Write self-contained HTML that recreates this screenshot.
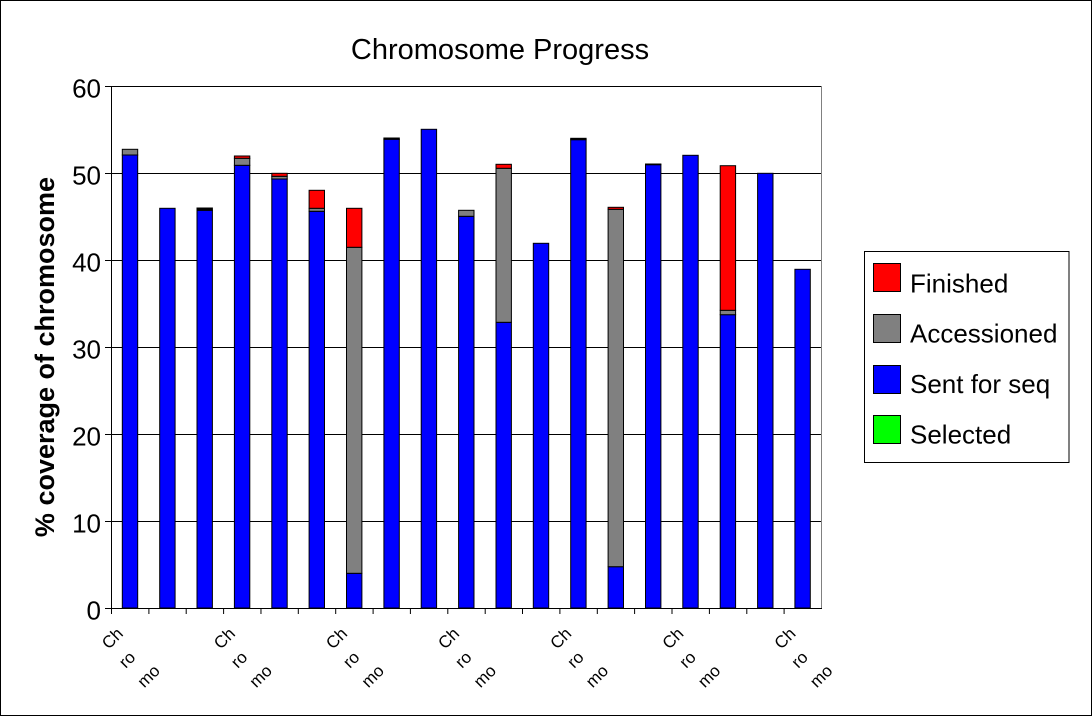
<!DOCTYPE html>
<html>
<head>
<meta charset="utf-8">
<style>
html,body{margin:0;padding:0;background:#fff;}
svg{display:block;}
text{font-family:"Liberation Sans",Arial,sans-serif;fill:#000;}
</style>
</head>
<body>
<svg width="1092" height="716" viewBox="0 0 1092 716" xmlns="http://www.w3.org/2000/svg">
<rect x="0.5" y="0.5" width="1091" height="715" fill="#fff" stroke="#000" stroke-width="1"/>

<!-- Title -->
<text x="500" y="59" font-size="29" text-anchor="middle">Chromosome Progress</text>

<!-- Y axis label -->
<text transform="translate(54,357) rotate(-90)" font-size="27" font-weight="bold" text-anchor="middle">% coverage of chromosome</text>

<!-- gridlines -->
<g stroke="#000" stroke-width="1">
<line x1="111" y1="86.5" x2="821" y2="86.5"/>
<line x1="111" y1="173.5" x2="821" y2="173.5"/>
<line x1="111" y1="260.5" x2="821" y2="260.5"/>
<line x1="111" y1="347.5" x2="821" y2="347.5"/>
<line x1="111" y1="434.5" x2="821" y2="434.5"/>
<line x1="111" y1="521.5" x2="821" y2="521.5"/>
</g>
<line x1="821.5" y1="86" x2="821.5" y2="608" stroke="#808080" stroke-width="1"/>

<!-- Y ticks & labels -->
<g stroke="#000" stroke-width="1">
<line x1="105" y1="86.5" x2="111" y2="86.5"/>
<line x1="105" y1="173.5" x2="111" y2="173.5"/>
<line x1="105" y1="260.5" x2="111" y2="260.5"/>
<line x1="105" y1="347.5" x2="111" y2="347.5"/>
<line x1="105" y1="434.5" x2="111" y2="434.5"/>
<line x1="105" y1="521.5" x2="111" y2="521.5"/>
<line x1="105" y1="608.5" x2="111" y2="608.5"/>
</g>
<g font-size="26" text-anchor="end">
<text x="101" y="97.5">60</text>
<text x="101" y="184.5">50</text>
<text x="101" y="271.5">40</text>
<text x="101" y="358.5">30</text>
<text x="101" y="445.5">20</text>
<text x="101" y="532.5">10</text>
<text x="101" y="619.5">0</text>
</g>

<!-- Bars -->
<g stroke="#000" stroke-width="1">
<!-- 0 -->
<rect x="122.3" y="155" width="15.4" height="453" fill="#0000ff"/>
<rect x="122.3" y="149.3" width="15.4" height="5.7" fill="#808080"/>
<!-- 1 -->
<rect x="159.7" y="208.3" width="15.4" height="399.7" fill="#0000ff"/>
<!-- 2 -->
<rect x="197.0" y="210.3" width="15.4" height="397.7" fill="#0000ff"/>
<rect x="197.0" y="208" width="15.4" height="2.3" fill="#000"/>
<!-- 3 -->
<rect x="234.4" y="165.3" width="15.4" height="442.7" fill="#0000ff"/>
<rect x="234.4" y="158.3" width="15.4" height="7" fill="#808080"/>
<rect x="234.4" y="156" width="15.4" height="2.3" fill="#ff0000"/>
<!-- 4 -->
<rect x="271.8" y="179" width="15.4" height="429" fill="#0000ff"/>
<rect x="271.8" y="176.3" width="15.4" height="2.7" fill="#808080"/>
<rect x="271.8" y="173.3" width="15.4" height="3" fill="#ff0000"/>
<!-- 5 -->
<rect x="309.1" y="211.3" width="15.4" height="396.7" fill="#0000ff"/>
<rect x="309.1" y="208.3" width="15.4" height="3" fill="#808080"/>
<rect x="309.1" y="190.3" width="15.4" height="18" fill="#ff0000"/>
<!-- 6 -->
<rect x="346.5" y="573.3" width="15.4" height="34.7" fill="#0000ff"/>
<rect x="346.5" y="247.3" width="15.4" height="326" fill="#808080"/>
<rect x="346.5" y="208.3" width="15.4" height="39" fill="#ff0000"/>
<!-- 7 -->
<rect x="383.9" y="139.3" width="15.4" height="468.7" fill="#0000ff"/>
<rect x="383.9" y="138" width="15.4" height="1.3" fill="#000"/>
<!-- 8 -->
<rect x="421.2" y="129.3" width="15.4" height="478.7" fill="#0000ff"/>
<!-- 9 -->
<rect x="458.6" y="216.3" width="15.4" height="391.7" fill="#0000ff"/>
<rect x="458.6" y="210.3" width="15.4" height="6" fill="#808080"/>
<!-- 10 -->
<rect x="496.0" y="322.3" width="15.4" height="285.7" fill="#0000ff"/>
<rect x="496.0" y="168.3" width="15.4" height="154" fill="#808080"/>
<rect x="496.0" y="164.3" width="15.4" height="4" fill="#ff0000"/>
<!-- 11 -->
<rect x="533.3" y="243.3" width="15.4" height="364.7" fill="#0000ff"/>
<!-- 12 -->
<rect x="570.7" y="139.7" width="15.4" height="468.3" fill="#0000ff"/>
<rect x="570.7" y="138.3" width="15.4" height="1.4" fill="#000"/>
<!-- 13 -->
<rect x="608.1" y="566.7" width="15.4" height="41.3" fill="#0000ff"/>
<rect x="608.1" y="209.3" width="15.4" height="357.4" fill="#808080"/>
<rect x="608.1" y="207.3" width="15.4" height="2" fill="#ff0000"/>
<!-- 14 -->
<rect x="645.5" y="164.7" width="15.4" height="443.3" fill="#0000ff"/>
<rect x="645.5" y="164" width="15.4" height="0.7" fill="#000"/>
<!-- 15 -->
<rect x="682.8" y="155.3" width="15.4" height="452.7" fill="#0000ff"/>
<!-- 16 -->
<rect x="720.2" y="314.7" width="15.4" height="293.3" fill="#0000ff"/>
<rect x="720.2" y="310.3" width="15.4" height="4.4" fill="#808080"/>
<rect x="720.2" y="165.7" width="15.4" height="144.6" fill="#ff0000"/>
<!-- 17 -->
<rect x="757.6" y="173.3" width="15.4" height="434.7" fill="#0000ff"/>
<!-- 18 -->
<rect x="794.9" y="269.3" width="15.4" height="338.7" fill="#0000ff"/>
</g>

<!-- Axes -->
<line x1="111.5" y1="86" x2="111.5" y2="609" stroke="#000" stroke-width="1"/>
<line x1="111" y1="608.5" x2="822" y2="608.5" stroke="#000" stroke-width="1"/>

<!-- X ticks -->
<g stroke="#000" stroke-width="1">
<line x1="111.5" y1="608" x2="111.5" y2="614"/>
<line x1="148.9" y1="608" x2="148.9" y2="614"/>
<line x1="186.2" y1="608" x2="186.2" y2="614"/>
<line x1="223.6" y1="608" x2="223.6" y2="614"/>
<line x1="260.97" y1="608" x2="260.97" y2="614"/>
<line x1="298.3" y1="608" x2="298.3" y2="614"/>
<line x1="335.7" y1="608" x2="335.7" y2="614"/>
<line x1="373.1" y1="608" x2="373.1" y2="614"/>
<line x1="410.4" y1="608" x2="410.4" y2="614"/>
<line x1="447.8" y1="608" x2="447.8" y2="614"/>
<line x1="485.2" y1="608" x2="485.2" y2="614"/>
<line x1="522.5" y1="608" x2="522.5" y2="614"/>
<line x1="559.9" y1="608" x2="559.9" y2="614"/>
<line x1="597.3" y1="608" x2="597.3" y2="614"/>
<line x1="634.6" y1="608" x2="634.6" y2="614"/>
<line x1="672.0" y1="608" x2="672.0" y2="614"/>
<line x1="709.4" y1="608" x2="709.4" y2="614"/>
<line x1="746.8" y1="608" x2="746.8" y2="614"/>
<line x1="784.1" y1="608" x2="784.1" y2="614"/>
</g>

<!-- X labels -->
<g font-size="17">
<text transform="translate(108.7,650) rotate(-45)">Ch</text>
<text transform="translate(125.7,669) rotate(-45)">ro</text>
<text transform="translate(144.2,688.5) rotate(-45)">mo</text>

<text transform="translate(220.8,650) rotate(-45)">Ch</text>
<text transform="translate(237.8,669) rotate(-45)">ro</text>
<text transform="translate(256.3,688.5) rotate(-45)">mo</text>

<text transform="translate(332.9,650) rotate(-45)">Ch</text>
<text transform="translate(349.9,669) rotate(-45)">ro</text>
<text transform="translate(368.4,688.5) rotate(-45)">mo</text>

<text transform="translate(445.0,650) rotate(-45)">Ch</text>
<text transform="translate(462.0,669) rotate(-45)">ro</text>
<text transform="translate(480.5,688.5) rotate(-45)">mo</text>

<text transform="translate(557.1,650) rotate(-45)">Ch</text>
<text transform="translate(574.1,669) rotate(-45)">ro</text>
<text transform="translate(592.6,688.5) rotate(-45)">mo</text>

<text transform="translate(669.2,650) rotate(-45)">Ch</text>
<text transform="translate(686.2,669) rotate(-45)">ro</text>
<text transform="translate(704.7,688.5) rotate(-45)">mo</text>

<text transform="translate(781.3,650) rotate(-45)">Ch</text>
<text transform="translate(798.3,669) rotate(-45)">ro</text>
<text transform="translate(816.8,688.5) rotate(-45)">mo</text>
</g>

<!-- Legend -->
<rect x="864.5" y="251.5" width="204.5" height="211" fill="#fff" stroke="#000" stroke-width="1"/>
<g stroke="#000" stroke-width="1">
<rect x="873.5" y="263.5" width="27" height="28" fill="#ff0000"/>
<rect x="873.5" y="314.5" width="27" height="28" fill="#808080"/>
<rect x="873.5" y="365.5" width="27" height="28" fill="#0000ff"/>
<rect x="873.5" y="415.5" width="27" height="28" fill="#00ff00"/>
</g>
<g font-size="26">
<text x="910" y="292.5">Finished</text>
<text x="910" y="342.5">Accessioned</text>
<text x="910" y="393">Sent for seq</text>
<text x="910" y="443.5">Selected</text>
</g>
</svg>
</body>
</html>
